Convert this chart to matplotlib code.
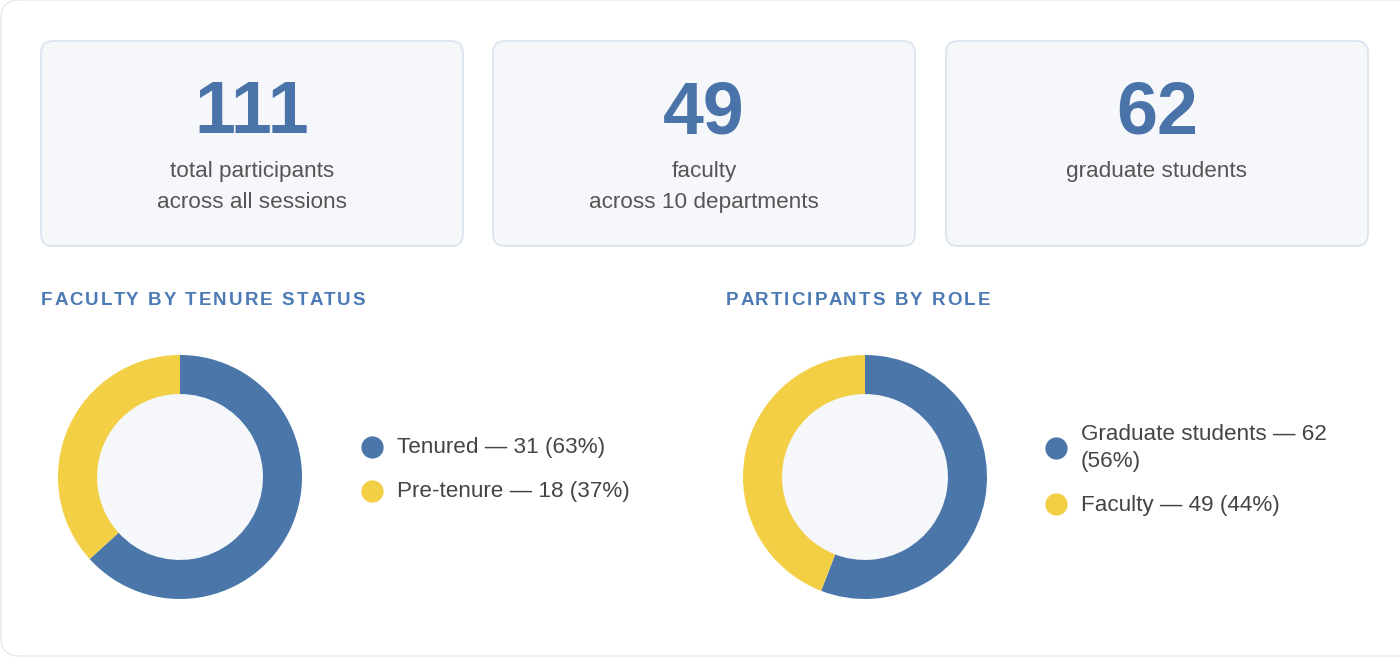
import matplotlib
matplotlib.use("Agg")
import matplotlib.pyplot as plt
from matplotlib.patches import FancyBboxPatch
from matplotlib.lines import Line2D

# --- data ---
stat_values = ["111", "49", "62"]
stat_captions = [
    ["total participants", "across all sessions"],
    ["faculty", "across 10 departments"],
    ["graduate students"],
]

tenure_labels = ["Tenured", "Pre-tenure"]
tenure_counts = [31, 18]

role_labels = ["Graduate students", "Faculty"]
role_counts = [62, 49]

chart_titles = ["FACULTY BY TENURE STATUS", "PARTICIPANTS BY ROLE"]

BLUE = "#4a76a9"
YELLOW = "#f2cf44"
TITLE_BLUE = "#4c7ab4"
CARD_BG = "#f5f7fb"
CARD_EDGE = "#dbe4f0"
TEXT = "#444444"
SUB = "#555555"
FONT = "Liberation Sans"

W, H = 1400, 659
fig = plt.figure(figsize=(W / 100, H / 100), dpi=100)
fig.patch.set_facecolor("white")

# overlay axes in pixel coordinates (y down)
ov = fig.add_axes([0, 0, 1, 1])
ov.set_xlim(0, W)
ov.set_ylim(H, 0)
ov.axis("off")

# outer panel (runs off the right edge like the screenshot)
ov.add_patch(FancyBboxPatch((1, 0), W + 30, H - 3,
                            boxstyle="round,pad=0,rounding_size=18",
                            facecolor="white", edgecolor="#ebebeb", linewidth=1.2))

# stat cards
card_x = [41, 493, 946]
card_w = 422
for x0, val, caps in zip(card_x, stat_values, stat_captions):
    ov.add_patch(FancyBboxPatch((x0, 41), card_w, 205,
                                boxstyle="round,pad=0,rounding_size=12",
                                facecolor=CARD_BG, edgecolor=CARD_EDGE, linewidth=1.3))
    cx = x0 + card_w / 2
    ov.text(cx, 133, val, ha="center", va="baseline", fontsize=53,
            fontweight="bold", color="#4a74a9", family=FONT)
    for i, line in enumerate(caps):
        ov.text(cx, 177 + 31 * i, line, ha="center", va="baseline",
                fontsize=16.2, color=SUB, family=FONT)


def spaced_text(ax, x, y, s, spacing, **kw):
    # draw text with extra letter spacing, char by char
    r = fig.canvas.get_renderer()

    def width(t):
        a = ax.text(0, 0, "|" + t + "|", **kw)
        b = ax.text(0, 0, "||", **kw)
        w = a.get_window_extent(r).width - b.get_window_extent(r).width
        a.remove()
        b.remove()
        return w

    for i, ch in enumerate(s):
        if ch == " ":
            continue
        ax.text(x + width(s[:i]) + spacing * i, y, ch, ha="left", va="baseline", **kw)


title_x = [41, 726]
for tx, t in zip(title_x, chart_titles):
    spaced_text(ov, tx, 305, t, 2.1, fontsize=13.5, fontweight="bold",
                color=TITLE_BLUE, family=FONT)


def donut(cx, cy, counts):
    r = 122
    ax = fig.add_axes([(cx - r) / W, (H - cy - r) / H, 2 * r / W, 2 * r / H])
    ax.pie(counts, colors=[BLUE, YELLOW], startangle=90, counterclock=False,
           radius=1, wedgeprops=dict(width=0.32, edgecolor="none"))
    ax.add_patch(plt.Circle((0, 0), 0.68, color=CARD_BG, zorder=0))
    ax.set_xlim(-1, 1)
    ax.set_ylim(-1, 1)
    ax.axis("off")
    return ax


donut(180, 477, tenure_counts)
donut(865, 477, role_counts)


def legend_rows(labels, counts):
    tot = sum(counts)
    return [f"{l} \u2014 {c} ({round(100 * c / tot)}%)" for l, c in zip(labels, counts)]


LFS = 16.2

# legend 1
rows1 = legend_rows(tenure_labels, tenure_counts)
for y, txt, col in zip([447, 491], rows1, [BLUE, YELLOW]):
    ov.add_line(Line2D([372], [y], marker="o", markersize=15, color=col, linestyle="none"))
    ov.text(397, y, txt, ha="left", va="center", fontsize=LFS, color=TEXT, family=FONT)

# legend 2 (first label wraps)
rows2 = legend_rows(role_labels, role_counts)
first, pct = rows2[0].rsplit(" ", 1)
ov.add_line(Line2D([1056], [448], marker="o", markersize=15, color=BLUE, linestyle="none"))
ov.text(1081, 435, first, ha="left", va="center", fontsize=LFS, color=TEXT, family=FONT)
ov.text(1081, 462, pct, ha="left", va="center", fontsize=LFS, color=TEXT, family=FONT)
ov.add_line(Line2D([1056], [504], marker="o", markersize=15, color=YELLOW, linestyle="none"))
ov.text(1081, 505, rows2[1], ha="left", va="center", fontsize=LFS, color=TEXT, family=FONT)

fig.savefig("out.png", dpi=100, facecolor="white")
